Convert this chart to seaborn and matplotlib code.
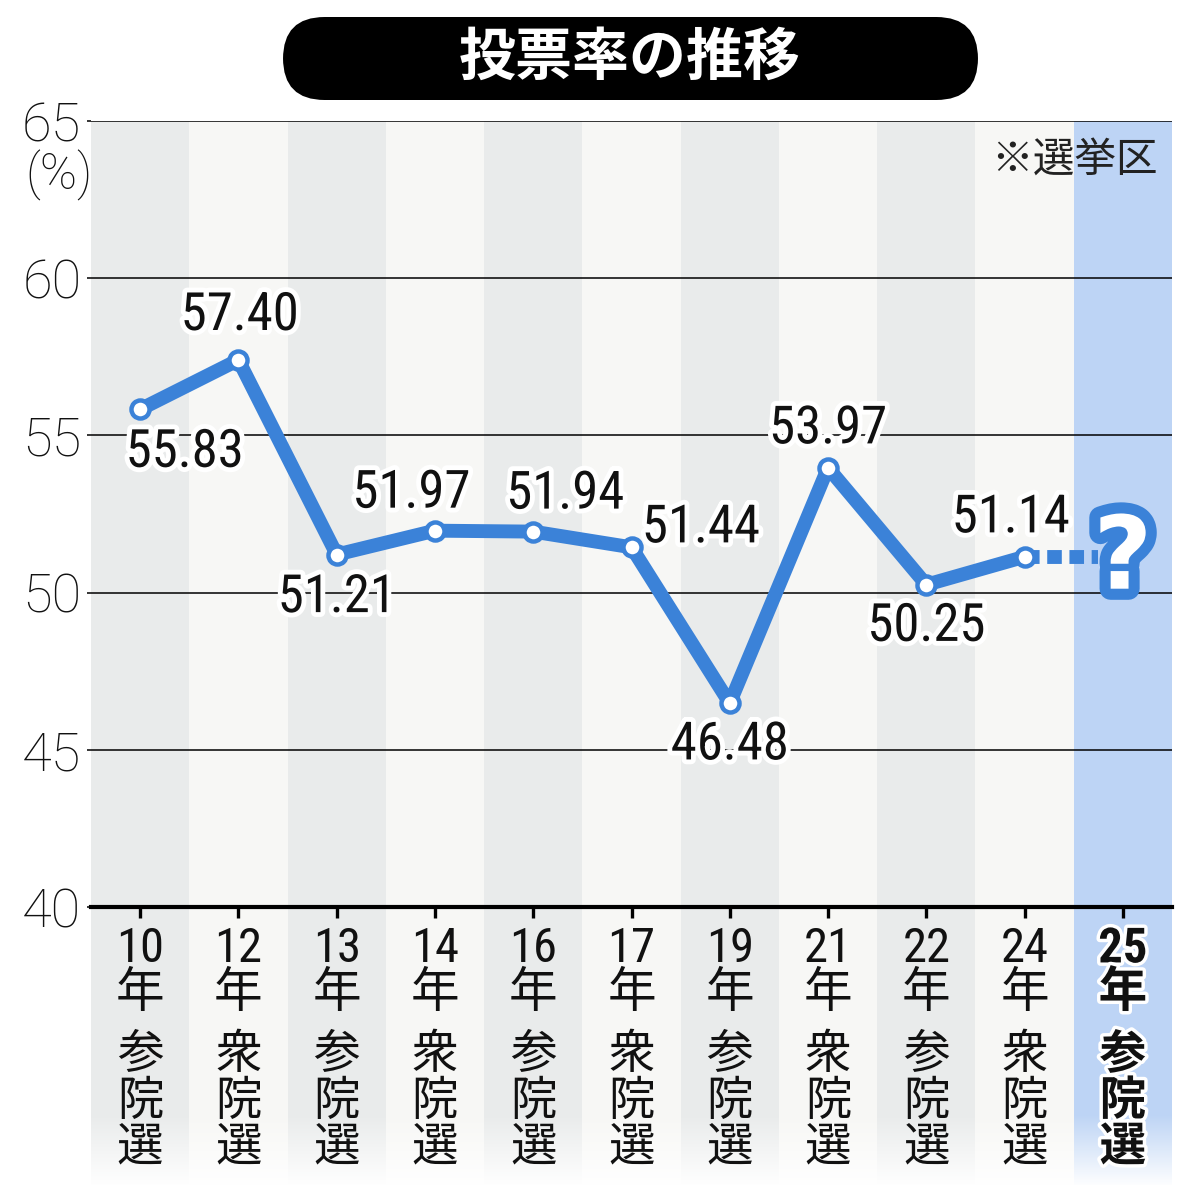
import numpy as np
import pandas as pd
import matplotlib
matplotlib.use('Agg')
import matplotlib.pyplot as plt
import seaborn as sns
from matplotlib import font_manager
from matplotlib.patches import FancyBboxPatch
import matplotlib.patheffects as pe

# ---------------- data ----------------
years = ['10', '12', '13', '14', '16', '17', '19', '21', '22', '24', '25']
houses = ['参', '衆', '参', '衆', '参', '衆', '参', '衆', '参', '衆', '参']
turnout = [55.83, 57.40, 51.21, 51.97, 51.94, 51.44, 46.48, 53.97, 50.25, 51.14]
value_labels = ['55.83', '57.40', '51.21', '51.97', '51.94', '51.44',
                '46.48', '53.97', '50.25', '51.14']
y_ticks = [40, 45, 50, 55, 60, 65]
title_text = '投票率の推移'
note_text = '※選挙区'
unit_text = '(%)'
pending_mark = '?'

# label offsets in points (dx, dy) relative to each point
label_offsets = [(32, -31), (1, 32), (0, -31), (-17, 27), (23, 27),
                 (50, 14), (0, -30), (0, 28), (0, -30), (-10, 28)]

# ---------------- style ----------------
sns.set_theme(style='white')
names = {f.name for f in font_manager.fontManager.ttflist}
narrow = 'Liberation Sans Narrow' if 'Liberation Sans Narrow' in names else (
    'Roboto Condensed' if 'Roboto Condensed' in names else 'Liberation Sans')
light = 'Roboto' if 'Roboto' in names else 'DejaVu Sans'
cjk = 'Noto Sans CJK JP'
plt.rcParams['font.family'] = [narrow, cjk, 'DejaVu Sans']

BLUE = '#3b82d8'
GRAY_STRIPE = '#e9ebeb'
LIGHT_STRIPE = '#f7f7f5'
HIGHLIGHT = '#bdd4f5'

fig = plt.figure(figsize=(11.9, 12), dpi=100)
fig.patch.set_facecolor('white')
W, H = 1190, 1200
ax = fig.add_axes([91 / W, 1 - 907 / H, (1172 - 91) / W, (907 - 121) / H])
ax.set_facecolor('none')

n = len(years)
idx = np.arange(n)
ymin, ymax = y_ticks[0], y_ticks[-1]
stripe_bottom = 31.15

# background stripes (extend below the axis, then fade)
stripe_colors = [GRAY_STRIPE if i % 2 == 0 else LIGHT_STRIPE for i in range(n)]
stripe_colors[-1] = HIGHLIGHT
ax.bar(idx, ymax - stripe_bottom, bottom=stripe_bottom, width=1.0,
       color=stripe_colors, clip_on=False, zorder=0, linewidth=0)

grad = np.ones((100, 2, 4))
grad[:, :, 3] = np.linspace(0, 1, 100)[:, None]
ax.imshow(grad, extent=[-0.5, n - 0.5, stripe_bottom - 0.05, 33.4],
          origin='upper', aspect='auto', zorder=0.5, clip_on=False,
          interpolation='bilinear')

# grid
for yt in y_ticks[1:]:
    ax.axhline(yt, color='black', lw=1.1, zorder=1)

# dotted extension to the pending election
ax.plot([idx[len(turnout) - 1], idx[-1] - 0.25], [turnout[-1], turnout[-1]],
        color=BLUE, lw=10, ls=(0, (1.05, 0.55)), dash_capstyle='butt', zorder=2)

# main line
df = pd.DataFrame({'x': idx[:len(turnout)], 'turnout': turnout})
sns.lineplot(data=df, x='x', y='turnout', ax=ax, color=BLUE, lw=10,
             marker='o', markersize=13, markerfacecolor='white',
             markeredgecolor=BLUE, markeredgewidth=3.2,
             solid_joinstyle='round', zorder=3, legend=False)
for line in ax.lines[-1:]:
    line.set_markerfacecolor('white')
    line.set_markeredgecolor(BLUE)

# value labels
stroke = [pe.withStroke(linewidth=7, foreground='white')]
for i, (v, lab) in enumerate(zip(turnout, value_labels)):
    dx, dy = label_offsets[i]
    ax.annotate(lab, xy=(idx[i], v), xytext=(dx, dy), textcoords='offset points',
                ha='center', va='center', fontsize=38, color='#111111',
                family=[narrow, 'DejaVu Sans'], path_effects=stroke, zorder=5)

# question mark for the pending election
ax.annotate(pending_mark, xy=(idx[-1], turnout[-1]), xytext=(0, -23),
            textcoords='offset points', ha='center', va='baseline',
            fontsize=73, fontweight='bold', color='white',
            family=['DejaVu Sans'],
            path_effects=[pe.Stroke(linewidth=16, foreground=BLUE,
                                    joinstyle='round'), pe.Normal()],
            zorder=6)

# axes
ax.set_xlim(-0.5, n - 0.5)
ax.set_ylim(ymin, ymax)
for s in ['top', 'right', 'left']:
    ax.spines[s].set_visible(False)
ax.spines['bottom'].set_color('black')
ax.spines['bottom'].set_linewidth(3)
ax.spines['bottom'].set_zorder(4)
ax.set_xlabel('')
ax.set_ylabel('')

ax.set_yticks(y_ticks)
ax.set_yticklabels([str(t) for t in y_ticks], fontsize=39, color='#111111',
                   family=[light, 'DejaVu Sans'], fontweight='light')
ax.tick_params(axis='y', length=3, width=1.1, color='black', pad=4, left=True)

ax.set_xticks(idx)
ax.set_xticklabels([f'{y}\n年' for y in years], fontsize=35, color='#111111',
                   family=[narrow, cjk], linespacing=0.95)
ax.tick_params(axis='x', length=8, width=2.4, color='black', pad=6, bottom=True,
               direction='out')
xt = ax.get_xticklabels()
xt[-1].set_fontweight('bold')
xt[-1].set_path_effects([pe.withStroke(linewidth=5, foreground='white')])

# house labels below the year labels
for i, hs in enumerate(houses):
    last = i == n - 1
    ax.annotate(f'{hs}\n院\n選', xy=(idx[i], 0), xycoords=('data', 'axes fraction'),
                xytext=(0, -89), textcoords='offset points', ha='center', va='top',
                fontsize=33.5, color='#111111', family=[cjk],
                fontweight='bold' if last else 'normal', linespacing=0.95,
                annotation_clip=False,
                path_effects=[pe.withStroke(linewidth=5, foreground='white')] if last else None)

# title box
box = FancyBboxPatch((283 / W, 1 - 100 / H), (978 - 283) / W, 83 / H,
                     boxstyle='round,pad=0,rounding_size=0.035',
                     transform=fig.transFigure, facecolor='black',
                     edgecolor='none')
fig.add_artist(box)
fig.text(630 / W, 1 - 58 / H, title_text, color='white', fontsize=41,
         fontweight='bold', ha='center', va='center', family=[cjk])

# note and unit
fig.text(1158 / W, 1 - 160 / H, note_text, fontsize=30, color='#222222',
         ha='right', va='center', family=[cjk])
fig.text(59 / W, 1 - 175 / H, unit_text, fontsize=36, color='#111111',
         ha='center', va='center', family=[light, 'DejaVu Sans'],
         fontweight='light')

fig.savefig('out.png', dpi=100, facecolor='white')
